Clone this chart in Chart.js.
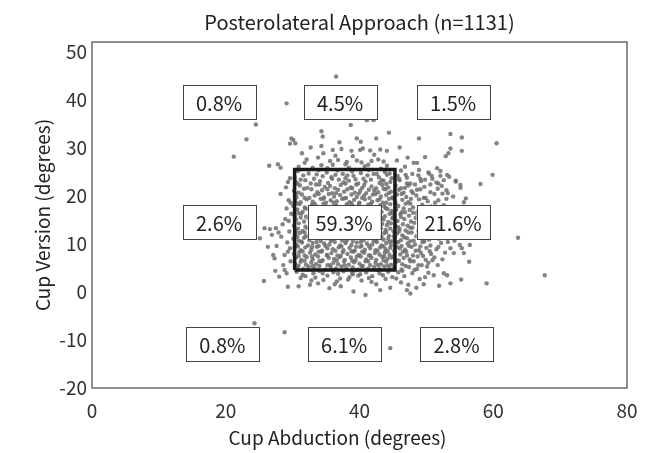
<!DOCTYPE html>
<html>
<head>
<meta charset="utf-8">
<script src="https://cdn.jsdelivr.net/npm/chart.js@4"></script>
<style>
  html, body { margin: 0; padding: 0; background: #fff; }
</style>
</head>
<body>
<canvas id="chart" width="662" height="453"></canvas>
<script>
// cup angles: [abduction, version] in degrees
const cupAngles = [
  // inside / right of the safe zone, row by row
  [30.8,25.2],[32.4,24.7],[33.9,25.4],[35.1,24.9],[36.7,25.3],[37.5,24.6],[38.9,25.1],[40.2,24.8],[41.4,25.4],[42.6,24.6],[43.8,25.0],[44.5,24.7],[46.2,25.3],[47.9,24.6],[50.3,24.9],[52.1,25.2],
  [30.3,23.8],[31.6,24.3],[33.2,23.6],[34.5,24.1],[35.8,23.9],[36.4,24.4],[37.9,23.7],[39.1,24.2],[40.6,23.6],[41.2,24.3],[42.9,23.9],[44.1,24.4],[44.8,23.7],[45.7,24.2],[47.1,23.8],[48.8,24.3],[50.9,23.6],[53.4,24.0],
  [30.5,22.9],[31.9,23.3],[32.7,22.6],[34.1,23.1],[35.3,22.7],[36.9,23.4],[37.6,22.8],[38.4,23.2],[39.8,22.6],[40.9,23.0],[41.7,23.4],[43.0,22.7],[43.6,23.2],[44.6,22.9],[46.0,23.3],[47.6,22.6],[49.2,23.1],[51.5,22.8],[54.4,23.2],
  [31.1,22.2],[32.2,21.7],[33.5,22.4],[34.8,21.9],[35.6,22.1],[36.3,21.6],[37.2,22.3],[38.7,21.8],[39.5,22.4],[40.4,21.7],[41.8,22.0],[42.5,21.6],[43.4,22.3],[44.3,21.8],[45.4,22.2],[46.8,21.7],[48.3,22.4],[49.7,21.9],[52.3,22.1],[55.1,21.7],
  [30.2,21.1],[30.9,20.7],[32.8,21.4],[33.7,20.8],[34.4,21.2],[35.9,20.6],[36.8,21.3],[37.7,20.9],[38.2,21.4],[39.3,20.7],[40.1,21.1],[41.0,20.6],[42.2,21.2],[42.8,20.8],[43.9,21.4],[44.7,20.9],[45.9,21.3],[46.6,20.7],[47.8,21.0],[49.1,21.4],[50.6,20.8],[53.0,21.2],
  [30.6,19.8],[31.4,20.3],[32.5,19.6],[33.3,20.1],[34.7,19.7],[35.4,20.4],[36.2,19.9],[37.1,20.2],[38.0,19.6],[38.8,20.3],[39.6,19.8],[40.7,20.1],[41.5,19.6],[42.4,20.4],[43.2,19.9],[44.0,20.2],[44.9,19.7],[45.6,20.3],[47.0,19.8],[48.5,20.1],[49.9,19.6],[51.2,20.4],[54.0,19.9],
  [30.4,19.2],[31.2,18.7],[32.1,19.3],[33.0,18.8],[34.2,19.4],[35.0,18.6],[35.7,19.1],[36.6,18.9],[37.4,19.4],[38.5,18.7],[39.2,19.2],[40.0,18.6],[40.8,19.3],[41.9,18.8],[42.7,19.1],[43.5,18.6],[44.4,19.4],[45.3,18.8],[46.4,19.2],[47.3,18.7],[48.9,19.3],[50.2,18.9],[51.8,19.1],[55.6,18.7],
  [30.1,17.9],[31.0,18.3],[31.8,17.6],[32.9,18.2],[33.6,17.8],[34.6,18.4],[35.5,17.7],[36.5,18.1],[37.3,17.6],[38.1,18.3],[39.0,17.9],[39.9,18.4],[40.5,17.7],[41.3,18.2],[42.1,17.6],[43.1,18.1],[43.7,17.8],[44.6,18.3],[45.8,17.9],[46.9,18.4],[48.0,17.6],[49.4,18.2],[50.7,17.8],[52.6,18.1],
  [30.7,17.2],[31.5,16.7],[32.3,17.3],[33.4,16.8],[34.0,17.4],[35.2,16.6],[36.0,17.1],[36.9,16.9],[37.8,17.3],[38.6,16.7],[39.4,17.2],[40.3,16.6],[41.1,17.4],[41.6,16.8],[42.6,17.1],[43.3,16.7],[44.2,17.3],[44.8,16.9],[45.5,17.2],[46.3,16.6],[47.5,17.1],[48.7,16.8],[50.0,17.4],[51.4,16.7],[53.7,17.0],
  [30.3,15.9],[31.3,16.3],[32.0,15.7],[32.6,16.2],[33.8,15.8],[34.9,16.4],[35.6,15.6],[36.3,16.1],[37.0,15.8],[38.3,16.3],[39.1,15.7],[39.7,16.2],[40.6,15.9],[41.4,16.4],[42.3,15.6],[43.0,16.1],[43.8,15.8],[44.5,16.3],[45.2,15.7],[46.1,16.2],[47.4,15.9],[48.6,16.3],[49.5,15.6],[51.0,16.1],[52.9,15.8],
  [30.5,15.1],[31.7,14.7],[32.4,15.3],[33.1,14.8],[34.3,15.2],[35.1,14.6],[35.8,15.4],[36.7,14.9],[37.5,15.1],[38.2,14.6],[38.9,15.3],[39.8,14.8],[40.4,15.2],[41.2,14.7],[42.0,15.4],[42.9,14.9],[43.6,15.1],[44.3,14.6],[44.9,15.3],[45.7,14.8],[46.7,15.2],[47.7,14.7],[48.4,15.4],[49.8,14.9],[51.6,15.1],[56.8,14.6],
  [30.2,13.8],[30.9,14.3],[31.9,13.6],[32.7,14.1],[33.5,13.9],[34.4,14.4],[35.3,13.7],[36.1,14.2],[36.8,13.6],[37.6,14.0],[38.4,14.3],[39.3,13.7],[40.2,14.1],[40.9,13.8],[41.8,14.4],[42.5,13.6],[43.4,14.2],[44.1,13.9],[44.7,14.3],[45.4,13.7],[46.5,14.1],[47.2,13.8],[48.2,14.4],[49.3,13.6],[50.5,14.2],[52.0,13.9],
  [30.8,13.2],[31.5,12.7],[32.2,13.3],[33.2,12.8],[34.1,13.4],[34.8,12.6],[35.7,13.1],[36.4,12.9],[37.2,13.3],[38.0,12.7],[38.7,13.2],[39.5,12.6],[40.1,13.4],[41.0,12.8],[41.7,13.1],[42.4,12.7],[43.2,13.3],[43.9,12.9],[44.6,13.2],[45.1,12.6],[46.0,13.1],[46.9,12.8],[47.9,13.4],[48.8,12.7],[50.1,13.2],[51.3,12.9],[53.5,13.1],
  [30.4,11.9],[31.1,12.3],[32.0,11.6],[32.9,12.2],[33.7,11.8],[34.6,12.4],[35.4,11.7],[36.2,12.1],[37.0,11.6],[37.7,12.3],[38.6,11.9],[39.2,12.4],[40.0,11.7],[40.8,12.2],[41.5,11.6],[42.2,12.1],[43.0,11.8],[43.7,12.3],[44.4,11.7],[45.6,12.2],[46.4,11.8],[47.3,12.4],[48.5,11.6],[49.6,12.1],[50.9,11.9],[52.4,12.3],
  [30.1,11.1],[30.9,10.7],[31.7,11.3],[32.5,10.8],[33.3,11.4],[34.2,10.6],[35.0,11.2],[35.9,10.9],[36.6,11.3],[37.4,10.7],[38.3,11.1],[39.0,10.6],[39.8,11.4],[40.6,10.8],[41.3,11.2],[42.1,10.7],[42.8,11.3],[43.6,10.9],[44.3,11.1],[44.9,10.6],[45.3,11.3],[46.2,10.8],[47.1,11.2],[48.1,10.7],[49.0,11.4],[50.4,10.9],[51.9,11.1],[54.2,10.7],
  [30.6,9.8],[31.4,10.3],[32.3,9.7],[33.0,10.2],[33.9,9.6],[34.7,10.1],[35.5,9.9],[36.3,10.4],[37.1,9.7],[37.9,10.2],[38.8,9.8],[39.6,10.3],[40.3,9.6],[41.1,10.1],[41.9,9.9],[42.6,10.4],[43.3,9.7],[44.0,10.2],[44.7,9.8],[45.5,10.3],[46.3,9.6],[47.2,10.1],[48.3,9.9],[49.4,10.4],[50.6,9.7],[52.2,10.2],[55.0,9.8],
  [30.3,9.2],[31.2,8.7],[31.9,9.3],[32.8,8.8],[33.6,9.4],[34.4,8.6],[35.2,9.1],[36.0,8.9],[36.9,9.3],[37.6,8.7],[38.5,9.2],[39.3,8.6],[40.1,9.4],[40.8,8.8],[41.6,9.1],[42.4,8.7],[43.1,9.3],[43.9,8.9],[44.6,9.2],[45.2,8.6],[46.0,9.1],[46.8,8.8],[47.8,9.4],[48.9,8.7],[50.0,9.2],[51.5,8.9],[53.6,9.1],
  [30.2,7.9],[31.0,8.3],[31.8,7.6],[32.6,8.2],[33.4,7.8],[34.3,8.4],[35.1,7.7],[35.8,8.1],[36.7,7.6],[37.5,8.3],[38.2,7.9],[39.1,8.4],[39.9,7.7],[40.7,8.2],[41.4,7.6],[42.3,8.1],[43.0,7.8],[43.8,8.3],[44.5,7.7],[45.3,8.2],[46.1,7.8],[47.0,8.4],[48.0,7.6],[49.2,8.1],[50.7,7.9],[52.8,8.2],
  [30.5,7.2],[31.3,6.7],[32.1,7.3],[33.0,6.8],[33.8,7.4],[34.5,6.6],[35.4,7.1],[36.2,6.9],[37.0,7.3],[37.8,6.7],[38.7,7.2],[39.4,6.6],[40.2,7.4],[41.0,6.8],[41.8,7.1],[42.5,6.7],[43.4,7.3],[44.2,6.9],[44.8,7.2],[45.6,6.6],[46.6,7.1],[47.5,6.8],[48.7,7.4],[49.9,6.7],[51.2,7.2],
  [30.4,5.9],[31.2,6.3],[32.0,5.7],[32.8,6.2],[33.5,5.8],[34.3,6.4],[35.2,5.6],[36.1,6.1],[36.8,5.8],[37.7,6.3],[38.4,5.7],[39.2,6.2],[40.0,5.9],[40.9,6.4],[41.6,5.6],[42.4,6.1],[43.2,5.8],[44.0,6.3],[44.7,5.7],[45.4,6.2],[46.4,5.8],[47.6,6.4],[48.8,5.6],[50.3,6.1],
  [30.7,5.1],[31.6,4.8],[32.4,5.3],[33.3,4.9],[34.0,5.4],[34.9,4.7],[35.7,5.2],[36.5,4.9],[37.3,5.3],[38.1,4.8],[39.0,5.1],[39.8,4.7],[40.5,5.4],[41.3,4.9],[42.2,5.2],[43.0,4.8],[43.7,5.3],[44.5,4.9],[45.2,5.1],[46.3,4.7],[47.4,5.2],[48.6,4.8],[50.1,5.3],
  // in-between rows of the dense core
  [33.6,24.5],[38.2,24.3],[42.1,24.6],[46.9,24.4],
  [31.2,23.4],[35.9,23.6],[39.4,23.5],[43.3,23.3],[45.9,23.6],[49.8,23.4],
  [30.8,22.5],[34.0,22.4],[37.9,22.6],[40.7,22.3],[44.0,22.5],[47.1,22.6],[50.6,22.4],
  [31.7,21.5],[35.2,21.4],[38.9,21.6],[41.4,21.3],[43.6,21.5],[46.2,21.6],[48.6,21.3],[51.7,21.5],
  [30.4,20.5],[33.9,20.4],[36.5,20.6],[39.9,20.5],[42.0,20.3],[44.4,20.6],[46.3,20.4],[48.0,20.6],[52.4,20.5],
  [31.8,19.6],[34.6,19.4],[37.7,19.5],[40.4,19.6],[43.0,19.3],[45.0,19.5],[47.7,19.4],[49.6,19.6],[53.0,19.4],
  [30.6,18.5],[33.3,18.4],[36.1,18.6],[38.8,18.5],[41.7,18.4],[44.0,18.6],[45.4,18.5],[47.6,18.4],[51.3,18.6],
  [31.9,17.4],[34.8,17.6],[37.2,17.5],[39.6,17.4],[42.4,17.6],[43.9,17.5],[46.6,17.4],[49.0,17.6],[52.1,17.5],
  [30.9,16.4],[33.1,16.6],[35.9,16.5],[38.0,16.4],[40.9,16.6],[42.8,16.5],[44.9,16.4],[46.8,16.6],[48.0,16.5],[50.4,16.4],
  [31.2,15.5],[33.6,15.6],[36.2,15.4],[38.6,15.5],[41.0,15.6],[43.3,15.4],[45.0,15.5],[46.2,15.6],[48.9,15.5],[51.4,15.4],
  [45.8,13.5],[47.6,13.4],[49.9,13.6],
  [30.5,12.5],[31.8,12.4],[44.0,12.5],[45.9,12.6],[47.8,12.4],[50.2,12.5],[53.1,12.4],
  [30.7,11.5],[32.4,11.6],[34.1,11.4],[36.8,11.5],[38.9,11.6],[41.2,11.4],[43.3,11.5],[45.1,11.6],[46.7,11.4],[48.8,11.5],[51.2,11.6],
  [31.3,10.5],[33.6,10.4],[35.7,10.6],[38.0,10.5],[40.2,10.4],[42.4,10.6],[44.5,10.5],[45.8,10.4],[47.6,10.6],[49.7,10.5],[53.2,10.4],
  [30.8,9.5],[32.9,9.4],[34.9,9.6],[37.3,9.5],[39.5,9.4],[41.4,9.6],[43.6,9.5],[45.6,9.4],[47.4,9.6],[49.1,9.5],[51.8,9.4],
  [31.5,8.5],[33.9,8.4],[36.4,8.6],[38.8,8.5],[40.4,8.4],[42.7,8.6],[44.2,8.5],[46.5,8.4],[48.4,8.6],[50.5,8.5],
  [30.9,7.5],[32.9,7.4],[35.2,7.6],[37.2,7.5],[39.6,7.4],[41.6,7.6],[43.7,7.5],[45.1,7.4],[47.1,7.6],[49.5,7.5],
  [31.8,6.5],[34.0,6.4],[36.6,6.6],[38.9,6.5],[41.3,6.4],[43.6,6.6],[45.9,6.5],[48.1,6.4],[50.9,6.6],
  [30.9,5.5],[33.0,5.4],[35.6,5.6],[37.8,5.5],[40.3,5.4],[42.8,5.6],[44.2,5.5],[46.9,5.4],[49.3,5.6],
  // upper left
  [29.1,39.3],[24.5,34.9],[23.1,31.8],[29.8,32.0],[21.2,28.2],[26.5,26.3],[27.8,26.6],[28.2,25.9],[29.6,30.9],
  // upper middle
  [36.5,44.9],[38.7,34.8],[41.1,35.8],[42.1,35.8],[34.3,33.5],[30.1,31.7],[30.4,31.0],[34.5,32.4],[39.6,32.0],[40.2,31.3],
  [44.4,33.2],[42.5,32.0],[36.0,29.6],[37.3,29.8],[38.8,29.4],[40.1,29.6],[40.5,29.9],[41.6,29.5],[43.1,29.7],[44.1,29.4],
  [34.3,30.4],[34.6,28.9],[33.8,28.0],[32.1,27.6],[31.8,26.9],[35.6,27.3],[36.8,27.5],[38.1,27.1],[39.6,27.4],[40.3,27.0],
  [41.8,27.3],[42.8,27.6],[43.6,27.2],[36.0,26.5],[34.3,26.4],[37.9,26.6],[41.3,26.5],[44.1,26.3],[39.0,28.3],[35.2,25.8],
  [33.0,25.9],[42.2,28.6],[37.0,31.2],[31.4,28.9],[38.4,25.9],[40.8,26.2],[43.2,25.7],[30.9,26.1],[36.4,28.4],[32.7,30.1],
  // upper right
  [46.8,26.1],[48.1,26.9],[48.9,25.4],[48.9,32.0],[53.6,32.9],[55.3,32.2],[60.5,31.0],[53.6,29.9],[55.3,29.4],[52.9,28.3],
  [53.3,28.9],[49.8,28.1],[48.6,26.9],[51.6,25.8],[47.2,28.0],[46.0,30.1],[45.6,27.4],
  // left of the zone
  [25.8,13.3],[26.6,13.1],[27.5,13.3],[25.1,11.2],[28.3,11.5],[26.3,9.4],[27.6,9.6],[27.1,7.7],[27.3,7.0],[29.1,17.4],
  [28.8,7.7],[29.3,8.4],[28.6,5.6],[29.6,23.7],[28.2,20.4],[29.4,19.1],[28.9,15.2],[29.5,12.6],[29.2,10.3],[29.7,6.4],
  [28.5,14.1],[29.0,21.8],[29.8,16.3],[27.9,12.4],[29.6,9.1],[26.9,11.9],[29.3,22.9],[29.7,18.6],[29.4,14.8],
  // right outliers
  [59.9,24.4],[58.1,22.5],[55.1,22.3],[50.4,24.7],[50.8,24.2],[52.1,24.2],[52.6,23.3],[53.1,24.4],[51.8,22.6],[54.4,23.0],
  [55.9,19.5],[63.7,11.3],[56.5,9.8],[55.3,9.1],[55.6,8.1],[54.1,8.1],[56.4,6.3],[58.4,17.0],[57.3,14.6],[53.2,20.6],
  [54.7,16.2],[52.4,6.8],[51.7,5.6],[53.8,12.0],[49.1,23.6],[47.3,22.2],
  // lower left
  [28.8,4.6],[29.1,3.9],[25.7,2.3],[29.3,1.1],[24.3,-6.5],[28.8,-8.4],[28.0,3.2],[27.4,4.4],
  // lower middle
  [32.6,1.5],[33.8,1.8],[39.1,0.1],[43.1,0.4],[44.6,0.9],[34.6,2.5],[36.6,2.2],[38.3,2.6],[40.3,2.4],[41.8,2.1],
  [44.6,-11.7],[30.6,4.2],[31.5,3.6],[32.2,4.7],[33.1,3.9],[34.0,4.4],[35.2,3.4],[35.9,4.6],[36.8,3.8],[37.6,4.3],
  [38.5,3.1],[39.4,4.5],[40.1,3.7],[41.0,4.1],[41.9,3.3],[42.7,4.6],[43.5,3.5],[44.3,4.2],[31.2,2.9],[37.2,1.2],
  [42.5,1.6],[35.5,0.8],[40.9,-0.6],[30.9,1.2],[33.4,3.0],[39.8,3.4],[43.9,2.7],[36.1,4.1],[38.9,4.0],
  [31.9,3.3],[34.5,3.9],[37.1,2.8],[39.0,3.7],[41.4,2.9],[43.0,3.9],[44.9,3.1],[32.8,2.4],[36.3,1.6],
  // lower right
  [47.1,0.4],[47.6,-0.3],[53.6,1.8],[51.9,1.3],[49.6,1.6],[52.6,3.9],[53.1,3.5],[51.1,3.5],[59.0,1.8],[67.7,3.5],
  [45.8,4.1],[46.7,3.3],[48.2,4.6],[49.0,2.7],[50.3,4.0],[46.2,2.0],[48.5,0.9],[55.2,2.6],[45.5,2.8],[47.9,3.9],
  [46.4,4.4],[49.8,3.1],[47.3,1.5]
];

// safe zone outline as drawn: abduction ~30-45, version ~5-25
const zoneAbduction = [30.3, 45.3, 45.3, 30.3, 30.3];
const zoneVersion = [4.6, 4.6, 25.5, 25.5, 4.6];

// share of cups in each of the nine regions
const regionShares = ['0.8%', '4.5%', '1.5%', '2.6%', '59.3%', '21.6%', '0.8%', '6.1%', '2.8%'];
// where each label box sits (data units)
const regionAnchors = [
  [19.0, 39.6], [37.1, 39.6], [54.0, 39.6],
  [19.0, 14.5], [37.7, 14.5], [54.0, 14.5],
  [19.5, -10.9], [37.7, -10.9], [54.5, -10.9]
];

const xTicks = [0, 20, 40, 60, 80];
const yTicks = [-20, -10, 0, 10, 20, 30, 40, 50];

const FONT = '"Noto Sans CJK JP", "Noto Sans", sans-serif';
const ctx = document.getElementById('chart');

const overlay = {
  id: 'overlay',
  afterDatasetsDraw(chart) {
    const { ctx, chartArea: a, scales: { x, y } } = chart;
    ctx.save();
    // frame
    ctx.strokeStyle = '#6b6b6b';
    ctx.lineWidth = 1.5;
    ctx.strokeRect(a.left, a.top, a.right - a.left, a.bottom - a.top);
    // region labels
    ctx.font = '20px ' + FONT;
    ctx.textAlign = 'center';
    ctx.textBaseline = 'middle';
    regionShares.forEach((txt, i) => {
      const cx = x.getPixelForValue(regionAnchors[i][0]);
      const cy = y.getPixelForValue(regionAnchors[i][1]);
      const w = 73, h = 34;
      ctx.fillStyle = '#fff';
      ctx.fillRect(cx - w / 2, cy - h / 2, w, h);
      ctx.strokeStyle = '#444';
      ctx.lineWidth = 1;
      ctx.strokeRect(Math.round(cx - w / 2) + 0.5, Math.round(cy - h / 2) + 0.5, w, h);
      ctx.fillStyle = '#222';
      ctx.fillText(txt, cx, cy + 1);
    });
    // chart title, centred over the plot
    ctx.font = '20px ' + FONT;
    ctx.fillStyle = '#222';
    ctx.fillText('Posterolateral Approach (n=1131)', (a.left + a.right) / 2, 22);
    // x axis title sits a little left of the plot centre in the original
    ctx.font = '19px ' + FONT;
    ctx.fillText('Cup Abduction (degrees)', (a.left + a.right) / 2 - 22, 438);
    ctx.restore();
  }
};

new Chart(ctx, {
  type: 'scatter',
  data: {
    datasets: [
      {
        data: zoneAbduction.map((v, i) => ({ x: v, y: zoneVersion[i] })),
        showLine: true,
        borderColor: '#1a1a1a',
        borderWidth: 3.5,
        pointRadius: 0,
        order: 0
      },
      {
        data: cupAngles.map(p => ({ x: p[0], y: p[1] })),
        backgroundColor: 'rgba(110,110,110,0.85)',
        borderWidth: 0,
        pointRadius: 2.2,
        order: 1
      }
    ]
  },
  options: {
    responsive: false,
    animation: false,
    events: [],
    layout: { padding: { top: 42, right: 35, bottom: 0, left: 27 } },
    plugins: {
      legend: { display: false },
      tooltip: { enabled: false },
      title: { display: false }
    },
    scales: {
      x: {
        min: 0,
        max: 80,
        grid: { display: false, drawTicks: false },
        border: { display: false },
        afterBuildTicks: s => { s.ticks = xTicks.map(v => ({ value: v })); },
        afterFit: s => { s.height = 65; },
        ticks: { padding: 11, color: '#333', font: { family: FONT, size: 19 } },
        title: { display: false }
      },
      y: {
        min: -20,
        max: 52.08,
        grid: { display: false, drawTicks: false },
        border: { display: false },
        afterBuildTicks: s => { s.ticks = yTicks.map(v => ({ value: v })); },
        afterFit: s => { s.width = 65; },
        ticks: { padding: 5, color: '#333', font: { family: FONT, size: 19 } },
        title: {
          display: true,
          text: 'Cup Version (degrees)',
          color: '#222',
          font: { family: FONT, size: 19 }
        }
      }
    }
  },
  plugins: [overlay]
});
</script>
</body>
</html>
